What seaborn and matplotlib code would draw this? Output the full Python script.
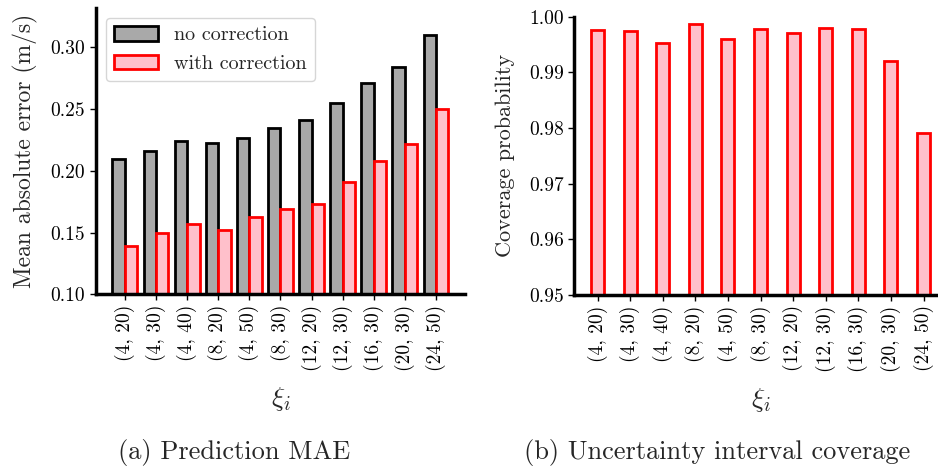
import numpy as np
import pandas as pd
import matplotlib
matplotlib.use("Agg")
import matplotlib.pyplot as plt
import seaborn as sns

# ------------------------------------------
# Data
# ------------------------------------------
xi_labels = ["(4, 20)", "(4, 30)", "(4, 40)", "(8, 20)", "(4, 50)", "(8, 30)",
             "(12, 20)", "(12, 30)", "(16, 30)", "(20, 30)", "(24, 50)"]
mae_no_corr = [0.210, 0.216, 0.224, 0.223, 0.227, 0.235, 0.241, 0.255, 0.271, 0.284, 0.310]
mae_with_corr = [0.139, 0.150, 0.157, 0.152, 0.163, 0.169, 0.173, 0.191, 0.208, 0.222, 0.250]
coverage = [0.9976, 0.9974, 0.9952, 0.9986, 0.9959, 0.9978, 0.9970, 0.9980, 0.9978, 0.9920, 0.9791]
series_names = ["no correction", "with correction"]

# ------------------------------------------
# Style
# ------------------------------------------
sns.set_style("ticks")
plt.rcParams.update({
    "font.family": ["cmr10", "DejaVu Serif"],
    "mathtext.fontset": "cm",
    "axes.formatter.use_mathtext": True,
    "axes.linewidth": 2.5,
    "xtick.major.width": 1.0,
    "ytick.major.width": 1.0,
    "xtick.major.size": 4,
    "ytick.major.size": 4,
    "xtick.color": "black",
    "ytick.color": "black",
    "axes.edgecolor": "black",
})

fig = plt.figure(figsize=(9.38, 4.68), dpi=100)
ax1 = fig.add_axes([0.102, 0.371, 0.394, 0.612])
ax2 = fig.add_axes([0.612, 0.370, 0.3976, 0.5945])

# (a) MAE bars
df_mae = pd.DataFrame({
    "xi": xi_labels * 2,
    "mae": mae_no_corr + mae_with_corr,
    "series": [series_names[0]] * len(xi_labels) + [series_names[1]] * len(xi_labels),
})
sns.barplot(data=df_mae, x="xi", y="mae", hue="series", ax=ax1,
            palette={"no correction": "darkgray", "with correction": "pink"},
            width=0.8, legend=False, saturation=1)
edge_cols = ["black", "red"]
for cont, ec in zip(ax1.containers, edge_cols):
    for p in cont:
        p.set_edgecolor(ec)
        p.set_linewidth(2.0)
ax1.legend(handles=ax1.containers, labels=series_names, loc="upper left",
           fontsize=14.5, handlelength=2.2, handleheight=0.75)
ax1.set_xlim(-0.94, 10.94)
ax1.set_ylim(0.10, 0.332)
ax1.set_yticks([0.10, 0.15, 0.20, 0.25, 0.30])
ax1.set_yticklabels(["0.10", "0.15", "0.20", "0.25", "0.30"])
ax1.set_ylabel("Mean absolute error (m/s)", fontsize=17, labelpad=9)
ax1.set_xlabel(r"$\xi_i$", fontsize=20, labelpad=10)

# (b) coverage bars
df_cov = pd.DataFrame({"xi": xi_labels, "cov": coverage})
sns.barplot(data=df_cov, x="xi", y="cov", ax=ax2, color="pink", width=0.4, saturation=1)
for p in ax2.patches:
    p.set_edgecolor("red")
    p.set_linewidth(2.0)
ax2.set_xlim(-0.72, 10.72)
ax2.set_ylim(0.95, 1.0)
ax2.set_yticks([0.95, 0.96, 0.97, 0.98, 0.99, 1.00])
ax2.set_yticklabels(["0.95", "0.96", "0.97", "0.98", "0.99", "1.00"])
ax2.set_ylabel("Coverage probability", fontsize=16, labelpad=10)
ax2.set_xlabel(r"$\xi_i$", fontsize=20, labelpad=10)

for ax in (ax1, ax2):
    sns.despine(ax=ax)
    ax.tick_params(axis="both", labelsize=14)
    ax.tick_params(axis="x", rotation=90)

fig.text(0.25, 0.034, "(a) Prediction MAE", ha="center", va="center", fontsize=19)
fig.text(0.765, 0.034, "(b) Uncertainty interval coverage", ha="center", va="center", fontsize=19)

fig.savefig("out.png", dpi=100)
